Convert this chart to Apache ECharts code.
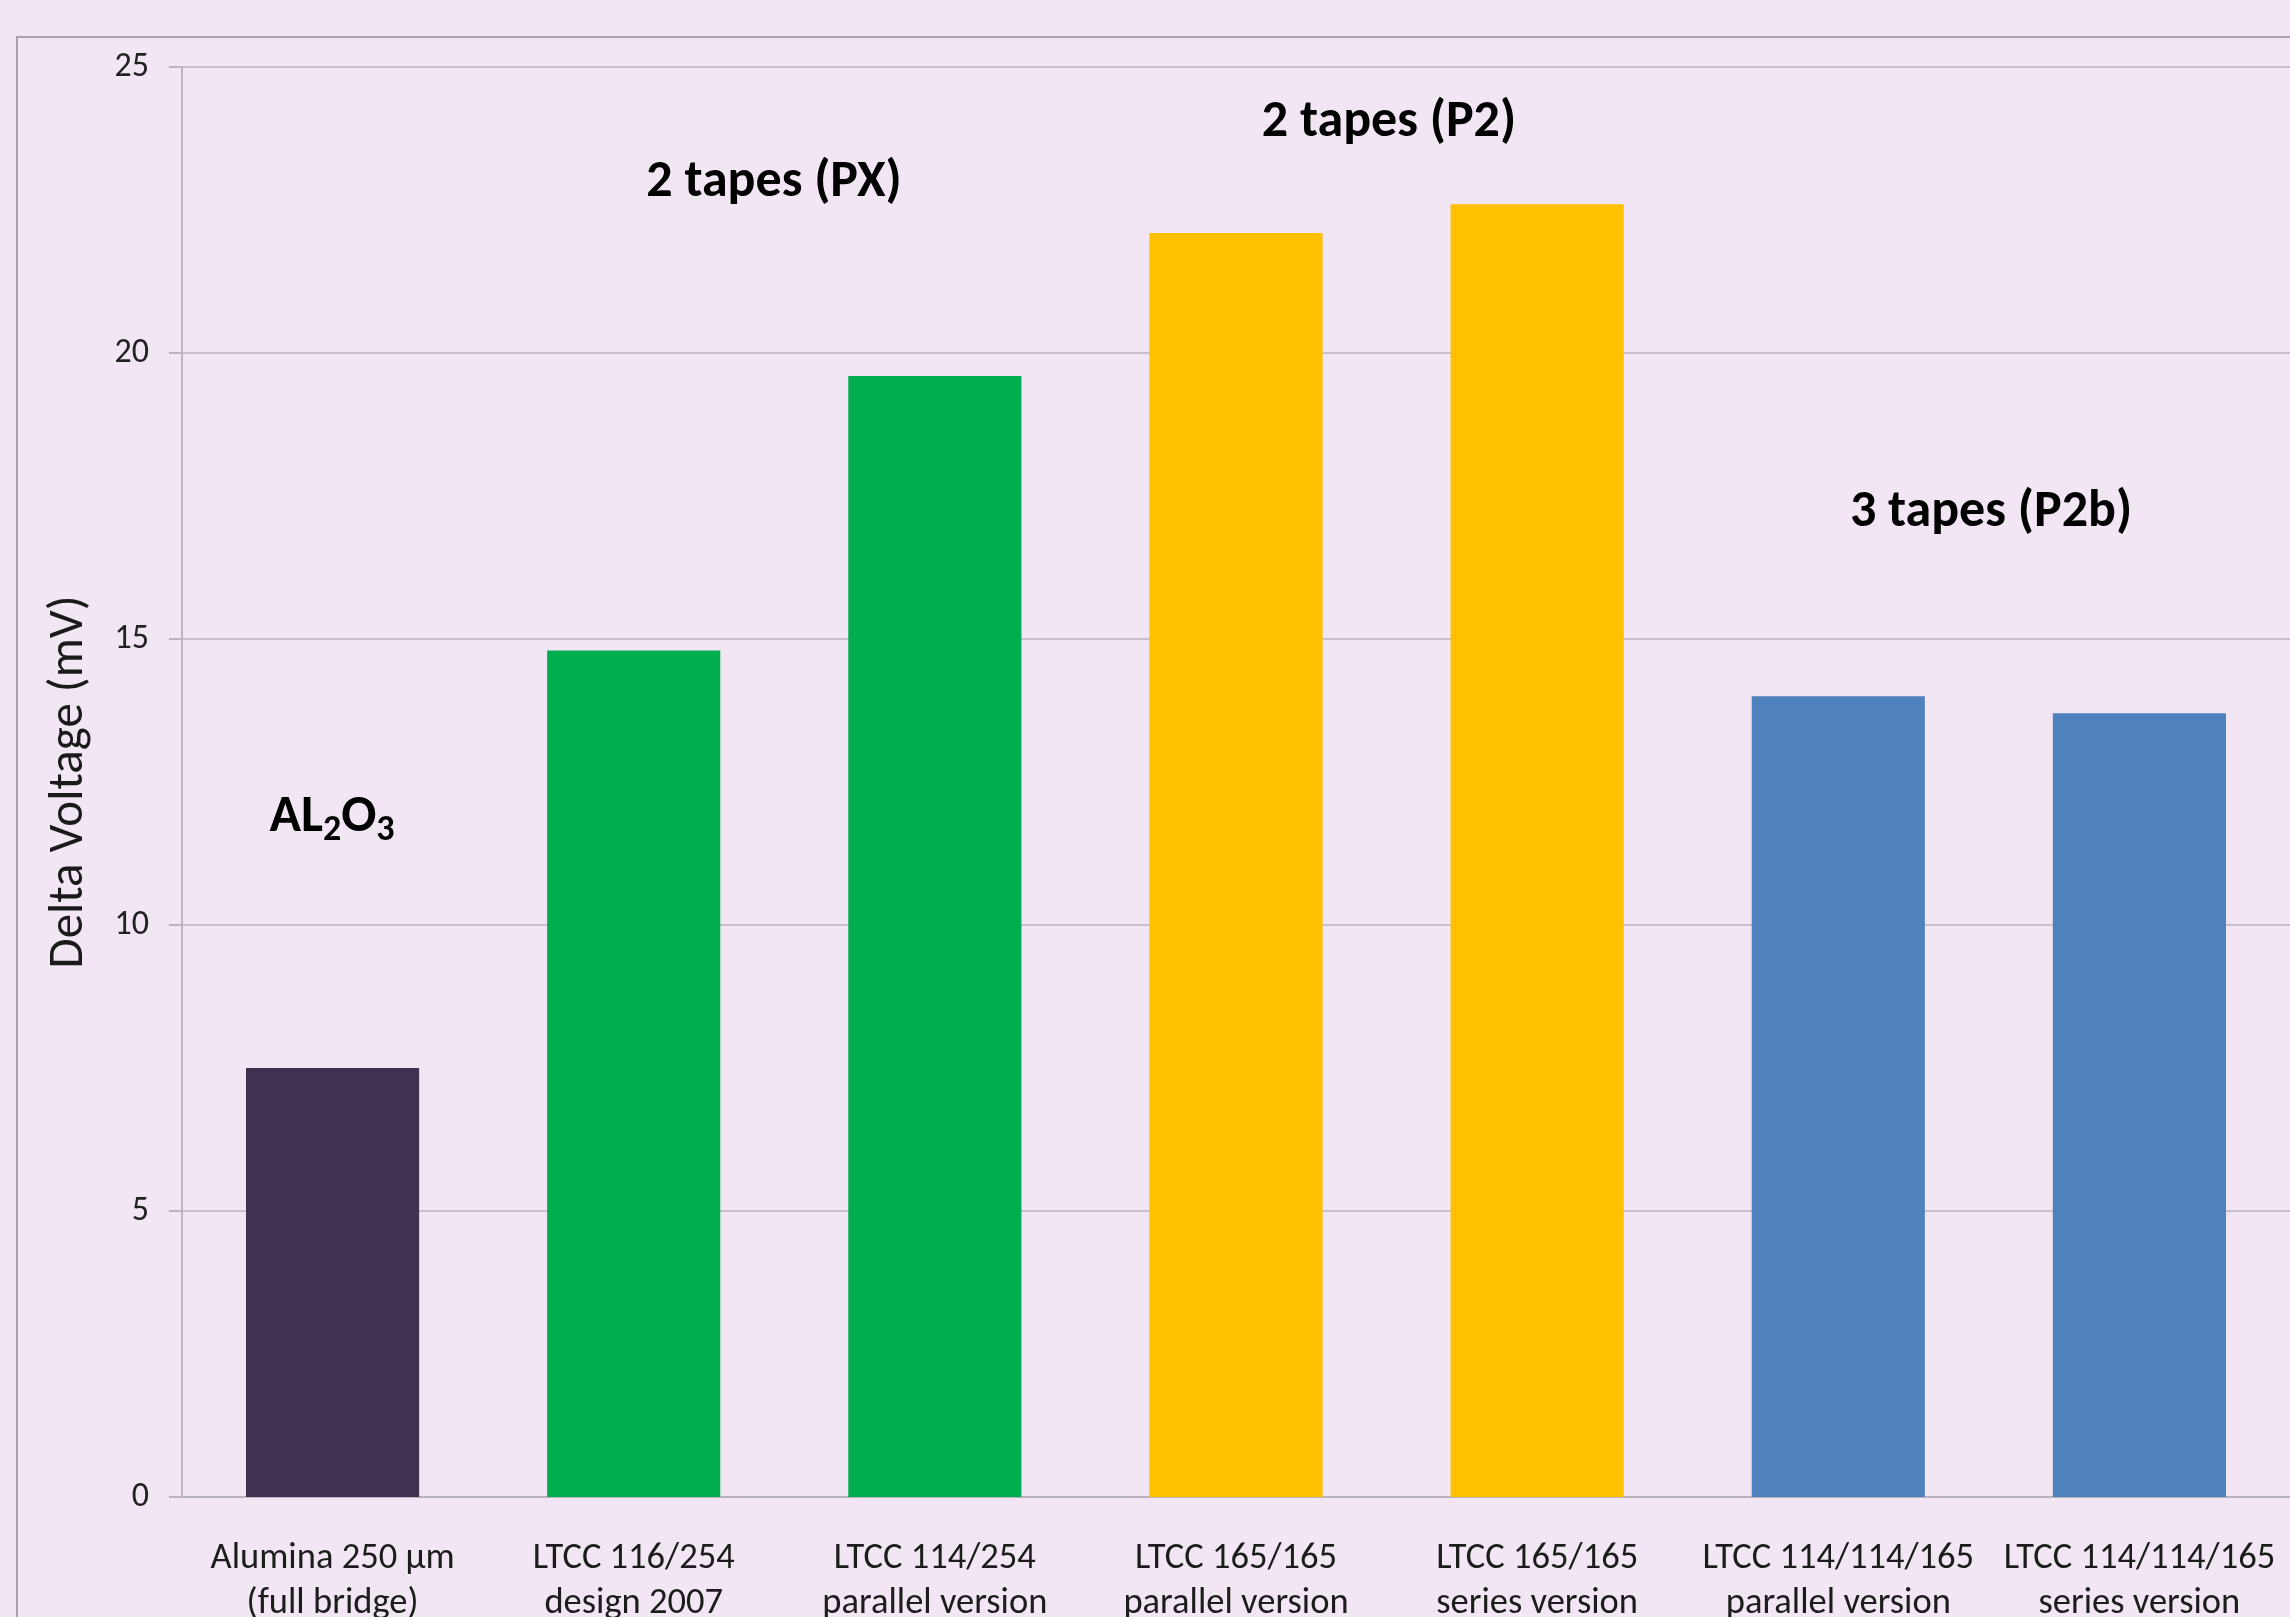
<!DOCTYPE html>
<html>
<head>
<meta charset="utf-8">
<title>Delta Voltage</title>
<script src="https://cdn.jsdelivr.net/npm/echarts@6/dist/echarts.min.js"></script>
<style>
  html, body { margin: 0; padding: 0; background: #f2e6f4; }
  #chart { width: 2290px; height: 1617px; }
</style>
</head>
<body>
<div id="chart"></div>
<script>
const categories = [
  'Alumina 250 µm\n(full bridge)',
  'LTCC 116/254\ndesign 2007',
  'LTCC 114/254\nparallel version',
  'LTCC 165/165\nparallel version',
  'LTCC 165/165\nseries version',
  'LTCC 114/114/165\nparallel version',
  'LTCC 114/114/165\nseries version'
];
const deltaVoltage = [7.5, 14.8, 19.6, 22.1, 22.6, 14.0, 13.7];
const barColors = ['#3f3150', '#00ae4f', '#00ae4f', '#ffc000', '#ffc000', '#4f81bd', '#4f81bd'];
const yTicks = { min: 0, max: 25, interval: 5 };

const FONT = 'Carlito, Lato, "Liberation Sans", sans-serif';

const chart = echarts.init(document.getElementById('chart'));

// group labels, centred over their bars
const bold = (text, x, y) => ({
  type: 'text', x: x, y: y,
  style: { text: text, font: 'bold 52px ' + FONT, fill: '#000', align: 'center', verticalAlign: 'middle' }
});

const option = {
  backgroundColor: '#f2e6f4',
  animation: false,
  grid: { left: 182, top: 67, right: 0, bottom: 120, outerBoundsMode: 'none' },
  xAxis: {
    type: 'category',
    data: categories,
    axisLine: { lineStyle: { color: '#bab3bd', width: 2 } },
    axisTick: { length: 12, lineStyle: { color: '#bab3bd', width: 2 } },
    axisLabel: {
      margin: 39,
      fontSize: 36.5,
      lineHeight: 45,
      color: '#1c1c1c',
      fontFamily: FONT,
      interval: 0
    }
  },
  yAxis: {
    type: 'value',
    min: yTicks.min,
    max: yTicks.max,
    interval: yTicks.interval,
    name: 'Delta Voltage (mV)',
    nameLocation: 'middle',
    nameGap: 88,
    nameTextStyle: { fontSize: 49, color: '#1a1a1a', fontFamily: FONT },
    axisLine: { show: true, lineStyle: { color: '#bdb6c0', width: 2 } },
    axisTick: { show: true, length: 13, lineStyle: { color: '#bdb6c0', width: 2 } },
    axisLabel: { fontSize: 34, color: '#222', fontFamily: FONT, margin: 33 },
    splitLine: { lineStyle: { color: '#c9bfcc', width: 2 } }
  },
  series: [{
    type: 'bar',
    barCategoryGap: '42.5%',
    data: deltaVoltage.map((v, i) => ({ value: v, itemStyle: { color: barColors[i] } }))
  }],
  graphic: [
    {
      type: 'rect',
      z: -10,
      shape: { x: 17, y: 37, width: 2400, height: 2000 },
      style: { fill: 'none', stroke: '#aaa3ad', lineWidth: 2 }
    },
    bold('2 tapes (PX)', 774, 183),
    bold('2 tapes (P2)', 1389, 123),
    bold('3 tapes (P2b)', 1991, 513),
    {
      type: 'text', x: 332, y: 818,
      style: {
        text: '{b|AL}{s|2}{b|O}{s|3}',
        align: 'center',
        verticalAlign: 'middle',
        rich: {
          b: { fontSize: 52, fontWeight: 'bold', fontFamily: FONT, color: '#000', lineHeight: 56 },
          s: { fontSize: 36, fontWeight: 'bold', fontFamily: FONT, color: '#000', lineHeight: 40, padding: [26, 0, 0, 0] }
        }
      }
    }
  ]
};

chart.setOption(option);
</script>
</body>
</html>
